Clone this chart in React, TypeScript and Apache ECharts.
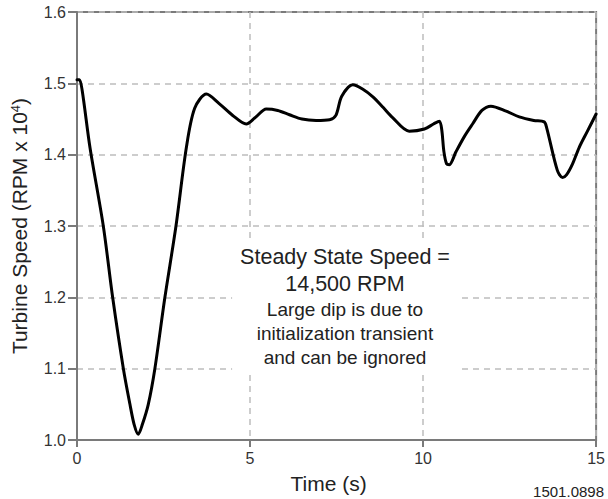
import React, { useEffect, useRef } from "react";
import * as echarts from "echarts";

const timeS = [0, 0.07, 0.15, 0.375, 0.76, 1.03, 1.34, 1.53, 1.65, 1.77, 1.89, 2.06, 2.25, 2.54, 2.86, 3.16, 3.4, 3.74, 4.1, 4.5, 4.89, 5.15, 5.47, 5.8, 6.14, 6.5, 6.91, 7.3, 7.48, 7.65, 7.97, 8.25, 8.55, 8.85, 9.12, 9.6, 10.04, 10.3, 10.47, 10.54, 10.6, 10.68, 10.76, 10.95, 11.2, 11.43, 11.7, 11.96, 12.4, 12.78, 13.2, 13.5, 13.57, 13.88, 14.03, 14.15, 14.32, 14.51, 14.75, 15];
const speedE4 = [1.505, 1.505, 1.49, 1.41, 1.3, 1.2, 1.1, 1.05, 1.022, 1.008, 1.022, 1.05, 1.1, 1.2, 1.3, 1.41, 1.465, 1.485, 1.472, 1.455, 1.443, 1.452, 1.464, 1.462, 1.456, 1.45, 1.448, 1.449, 1.455, 1.482, 1.498, 1.492, 1.481, 1.466, 1.452, 1.433, 1.436, 1.443, 1.447, 1.435, 1.405, 1.387, 1.386, 1.404, 1.426, 1.443, 1.462, 1.468, 1.461, 1.453, 1.448, 1.446, 1.438, 1.378, 1.368, 1.372, 1.387, 1.41, 1.433, 1.457];

const noteMain = ["Steady State Speed =", "14,500 RPM"];
const noteSub = ["Large dip is due to", "initialization transient", "and can be ignored"];

const FONT = "'Liberation Sans', Arial, Helvetica, sans-serif";

export default function App() {
  const ref = useRef<HTMLDivElement>(null);
  useEffect(() => {
    if (!ref.current) return;
    const chart = echarts.init(ref.current, undefined, { renderer: "svg" });
    const axisColor = "#7a7a7a";
    const gridLine = { show: true, lineStyle: { color: "#bdbdbd", type: [6, 5] as any, width: 1.5 } };
    const noteText =
      noteMain.map((s) => `{a|${s}}`).join("\n") + "\n" + noteSub.map((s) => `{b|${s}}`).join("\n");
    chart.setOption({
      animation: false,
      backgroundColor: "#fff",
      textStyle: { fontFamily: FONT },
      grid: { left: 77, right: 11, top: 12, bottom: 50, show: true, borderColor: axisColor, borderWidth: 2 },
      xAxis: {
        type: "value",
        min: 0,
        max: 15,
        interval: 5,
        name: "Time (s)",
        nameLocation: "middle",
        nameGap: 33,
        nameTextStyle: { fontSize: 21, color: "#222", padding: [0, 16, 0, 0] },
        axisLine: { show: true, lineStyle: { color: axisColor, width: 2 } },
        axisTick: { show: true, length: 7, lineStyle: { color: axisColor, width: 2 } },
        axisLabel: { fontSize: 16, color: "#333", margin: 10 },
        splitLine: gridLine,
      },
      yAxis: {
        type: "value",
        min: 1.0,
        max: 1.6,
        interval: 0.1,
        name: "Turbine Speed (RPM x 10{sup|4})",
        nameLocation: "middle",
        nameGap: 47,
        nameTextStyle: {
          fontSize: 21,
          color: "#222",
          rich: { sup: { fontSize: 13, verticalAlign: "top", color: "#222", padding: [0, 0, 8, 0] } },
        },
        axisLine: { show: true, lineStyle: { color: axisColor, width: 2 } },
        axisTick: { show: true, length: 9, lineStyle: { color: axisColor, width: 2 } },
        axisLabel: { fontSize: 16, color: "#333", margin: 11, formatter: (v: number) => v.toFixed(1) },
        splitLine: gridLine,
      },
      series: [
        {
          type: "line",
          data: timeS.map((t, i) => [t, speedE4[i]]),
          showSymbol: false,
          smooth: 0.3,
          lineStyle: { color: "#000", width: 3, join: "round", cap: "round" },
          z: 3,
        },
      ],
      graphic: [
        {
          type: "text",
          x: 345,
          y: 239,
          z: 10,
          style: {
            text: noteText,
            align: "center",
            verticalAlign: "top",
            backgroundColor: "#fff",
            padding: [4, 8, 4, 8],
            rich: {
              a: { fontSize: 21.5, lineHeight: 27, fontFamily: FONT, fill: "#222", align: "center" },
              b: { fontSize: 19, lineHeight: 24, fontFamily: FONT, fill: "#222", align: "center" },
            },
          },
        },
        {
          type: "text",
          right: 4,
          bottom: 0,
          style: { text: "1501.0898", fontSize: 15, fontFamily: FONT, fill: "#222" },
        },
      ],
    });
    return () => chart.dispose();
  }, []);
  return <div ref={ref} style={{ width: 608, height: 499, position: "absolute", left: 0, top: 0 }} />;
}
